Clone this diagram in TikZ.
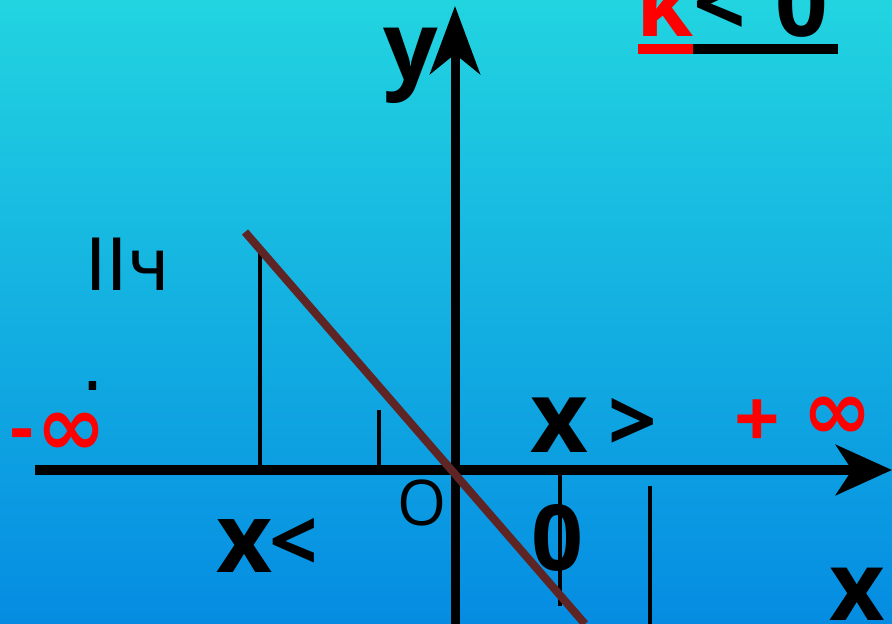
\documentclass[tikz,border=0pt]{standalone}
\usepackage{fontspec}
\setmainfont{Open Sans}
\newfontfamily\dvs{DejaVu Sans}
\usetikzlibrary{arrows.meta}
\definecolor{bgtop}{RGB}{34,212,224}
\definecolor{bgbot}{RGB}{5,140,226}
\definecolor{brownline}{RGB}{95,36,36}
\definecolor{redc}{RGB}{255,0,0}
\begin{document}
\begin{tikzpicture}[x=1pt,y=-1pt,
  xaxis/.style={line width=9.5pt,-{Stealth[length=56pt,width=50pt,inset=16pt]}},
  yaxis/.style={line width=9pt,-{Stealth[length=68pt,width=50pt,inset=20pt]}},
  tick/.style={line width=3.5pt},
  lbl/.style={inner sep=0pt,anchor=center}]
\useasboundingbox (0,0) rectangle (892,624);
\shade[top color=bgtop,bottom color=bgbot] (0,0) rectangle (892,624);
% ticks
\coordinate (t1a) at (260,245); \coordinate (t1b) at (260,468);
\coordinate (t2a) at (379,410); \coordinate (t2b) at (379,466);
\coordinate (t3a) at (560,475); \coordinate (t3b) at (560,606);
\coordinate (t4a) at (650,486); \coordinate (t4b) at (650,624);
\draw[tick] (t1a) -- (t1b);
\draw[tick] (t2a) -- (t2b);
\draw[tick] (t3a) -- (t3b);
\draw[tick] (t4a) -- (t4b);
% axes
\coordinate (xs) at (35,470); \coordinate (xe) at (892,470);
\coordinate (ys) at (455,624); \coordinate (ye) at (455,6);
\draw[xaxis] (xs) -- (xe);
\draw[yaxis] (ys) -- (ye);
% line
\coordinate (la) at (245,232); \coordinate (lb) at (585,624);
\draw[brownline,line width=8pt] (la) -- (lb);
% underline k<0
\coordinate (u1) at (638,49); \coordinate (u2) at (693,49); \coordinate (u3) at (838,49);
\draw[redc,line width=10pt] (u1) -- (u2);
\draw[black,line width=10pt] (u2) -- (u3);
% texts
\node[lbl,anchor=base west] (k) at (636,36) {\fontsize{92}{92}\selectfont\bfseries\textcolor{redc}{k}<\kern 30pt0};
\node[lbl] (y) at (411,66) {\fontsize{96}{96}\selectfont\bfseries y};
\node[lbl] (ii) at (128,264) {\dvs\fontsize{72}{72}\selectfont ІІч};
\node[lbl] (dot) at (93,386) {\dvs\fontsize{72}{72}\selectfont .};
\node[lbl] (mdash) at (22,441) {\textcolor{redc}{\fontsize{72}{72}\selectfont\bfseries -}};
\node[lbl] (minf) at (71,434) {\textcolor{redc}{\dvs\bfseries\fontsize{84}{84}\selectfont ∞}};
\node[lbl] (xg) at (559,425) {\fontsize{100}{100}\selectfont\bfseries x};
\node[lbl] (gt) at (633,425) {\fontsize{85}{85}\selectfont\bfseries >};
\node[lbl] (plus) at (757,424) {\textcolor{redc}{\fontsize{80}{80}\selectfont\bfseries +}};
\node[lbl] (pinf) at (837,418) {\textcolor{redc}{\dvs\bfseries\fontsize{84}{84}\selectfont ∞}};
\node[lbl] (o) at (422,503) {\fontsize{63}{63}\selectfont O};
\node[lbl] (zero) at (557,538) {\fontsize{91}{91}\selectfont\bfseries 0};
\node[lbl] (xl) at (245,546) {\fontsize{97}{97}\selectfont\bfseries x};
\node[lbl] (lt) at (294,545) {\fontsize{85}{85}\selectfont\bfseries <};
\node[lbl] (xx) at (857,594) {\fontsize{96}{96}\selectfont\bfseries x};
\end{tikzpicture}
\end{document}
